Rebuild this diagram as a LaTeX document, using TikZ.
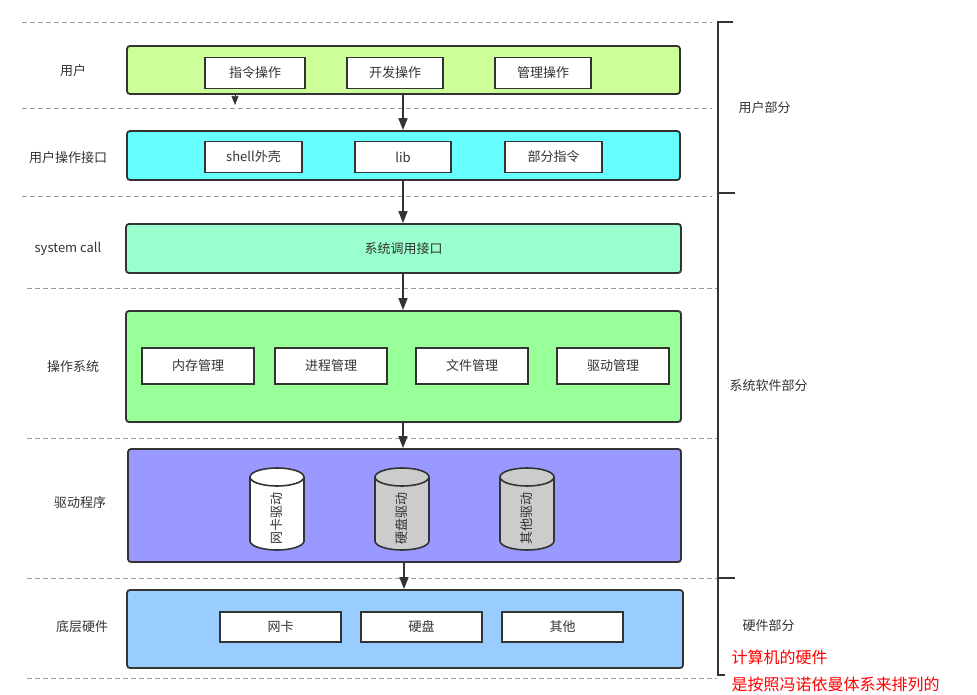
\documentclass[tikz,border=0pt]{standalone}
\usepackage{fontspec}
\setmainfont{Noto Sans CJK SC}
\usetikzlibrary{arrows.meta}
\definecolor{txt}{HTML}{333333}
\definecolor{dashc}{HTML}{9A9A9A}
\definecolor{cUser}{HTML}{CCFF99}
\definecolor{cApi}{HTML}{66FFFF}
\definecolor{cSys}{HTML}{99FFCC}
\definecolor{cOS}{HTML}{99FF99}
\definecolor{cDrv}{HTML}{9999FF}
\definecolor{cHw}{HTML}{99CCFF}
\definecolor{cGray}{HTML}{CCCCCC}
\begin{document}
\begin{tikzpicture}[x=1pt,y=-1pt,
  every node/.style={text=txt,font=\fontsize{13}{15}\selectfont},
  layer/.style={draw=txt,line width=1.8pt,rounded corners=3pt,inner sep=0pt},
  item/.style={draw=txt,fill=white,line width=1.6pt,inner sep=0pt,minimum height=31pt},
  sep/.style={draw=dashc,line width=0.9pt,dash pattern=on 5pt off 3pt},
  flow/.style={draw=txt,line width=1.6pt,-{Triangle[length=12pt,width=9pt]}},
  smallflow/.style={draw=txt,line width=0.6pt,-{Triangle[length=9pt,width=7pt]}},
  brk/.style={draw=txt,line width=2.2pt},
  side/.style={text=txt,anchor=west},
  note/.style={text=red,anchor=west,font=\fontsize{16}{18}\selectfont}]
\useasboundingbox (0,0) rectangle (977,695);

% separators
\draw[sep] (22,22) -- (712,22);
\draw[sep] (22,108) -- (712,108);
\draw[sep] (22,196) -- (712,196);
\draw[sep] (27,288) -- (717,288);
\draw[sep] (27,438) -- (717,438);
\draw[sep] (27,578) -- (717,578);
\draw[sep] (27,678) -- (717,678);

% layer boxes
\node[layer,fill=cUser,minimum width=553pt,minimum height=48pt] (user) at (403.5,70) {};
\node[layer,fill=cApi,minimum width=553pt,minimum height=49pt] (api) at (403.5,155.5) {};
\node[layer,fill=cSys,minimum width=555pt,minimum height=49pt] (sys) at (403.5,248.5) {系统调用接口};
\node[layer,fill=cOS,minimum width=555pt,minimum height=111pt] (os) at (403.5,366.5) {};
\node[layer,fill=cDrv,minimum width=553pt,minimum height=113pt] (drv) at (404.5,505.5) {};
\node[layer,fill=cHw,minimum width=556pt,minimum height=78pt] (hw) at (405,629) {};

% user items
\node[item,minimum width=100pt] (u1) at (255,73) {指令操作};
\node[item,minimum width=96pt] (u2) at (395,73) {开发操作};
\node[item,minimum width=96pt] (u3) at (543,73) {管理操作};
% api items
\node[item,minimum width=97pt] (a1) at (253.5,157) {shell外壳};
\node[item,minimum width=96pt] (a2) at (403,157) {lib};
\node[item,minimum width=97pt] (a3) at (553.5,157) {部分指令};
% os items
\node[item,minimum width=112pt,minimum height=36pt] (o1) at (198,366) {内存管理};
\node[item,minimum width=112pt,minimum height=36pt] (o2) at (331,366) {进程管理};
\node[item,minimum width=112pt,minimum height=36pt] (o3) at (472,366) {文件管理};
\node[item,minimum width=112pt,minimum height=36pt] (o4) at (613,366) {驱动管理};
% hw items
\node[item,minimum width=121pt,minimum height=30pt] (h1) at (280.5,627) {网卡};
\node[item,minimum width=121pt,minimum height=30pt] (h2) at (421.5,627) {硬盘};
\node[item,minimum width=121pt,minimum height=30pt] (h3) at (562.5,627) {其他};

% cylinders
\foreach \cx/\col/\nm/\lab in {277/white/d1/网卡驱动,402/cGray/d2/硬盘驱动,527/cGray/d3/其他驱动}{
  \filldraw[draw=txt,fill=\col,line width=1.6pt] (\cx-27,477) -- (\cx-27,541)
    arc[start angle=180,end angle=0,x radius=27,y radius=9] -- (\cx+27,477)
    arc[start angle=0,end angle=-180,x radius=27,y radius=9] -- cycle;
  \draw[draw=txt,line width=1.6pt] (\cx-27,477) arc[start angle=180,end angle=0,x radius=27,y radius=9];
  \node[rotate=90] (\nm) at (\cx,518) {\lab};
}

% arrows
\coordinate (tipA) at (235,95.5);
\coordinate (tipB) at (235,105);
\draw[smallflow] (tipA) -- (tipB);
\draw[flow] (user.south -| 403,0) -- (api.north -| 403,0);
\draw[flow] (api.south -| 403,0) -- (sys.north -| 403,0);
\draw[flow] (sys.south -| 403,0) -- (os.north -| 403,0);
\draw[flow] (os.south -| 403,0) -- (drv.north -| 403,0);
\draw[flow] (drv.south -| 404,0) -- (hw.north -| 404,0);

% left labels
\node (l1) at (73,71) {用户};
\node (l2) at (68,158) {用户操作接口};
\node (l3) at (68,249) {system call};
\node (l4) at (73,367) {操作系统};
\node (l5) at (80,503) {驱动程序};
\node (l6) at (82,627) {底层硬件};

% right bracket
\coordinate (b0) at (718,22);
\coordinate (b1) at (718,193);
\coordinate (b2) at (718,578);
\coordinate (b3) at (718,675);
\draw[brk] (733,22) -- (b0) -- (b3) -- (725,675);
\draw[brk] (b1) -- (735,193);
\draw[brk] (b2) -- (735,578);
\node[side] (r1) at (735,108) {用户部分};
\node[side] (r2) at (726,386) {系统软件部分};
\node[side] (r3) at (739,626) {硬件部分};
\node[note] (n1) at (728,657) {计算机的硬件};
\node[note] (n2) at (728,684) {是按照冯诺依曼体系来排列的};
\end{tikzpicture}
\end{document}
